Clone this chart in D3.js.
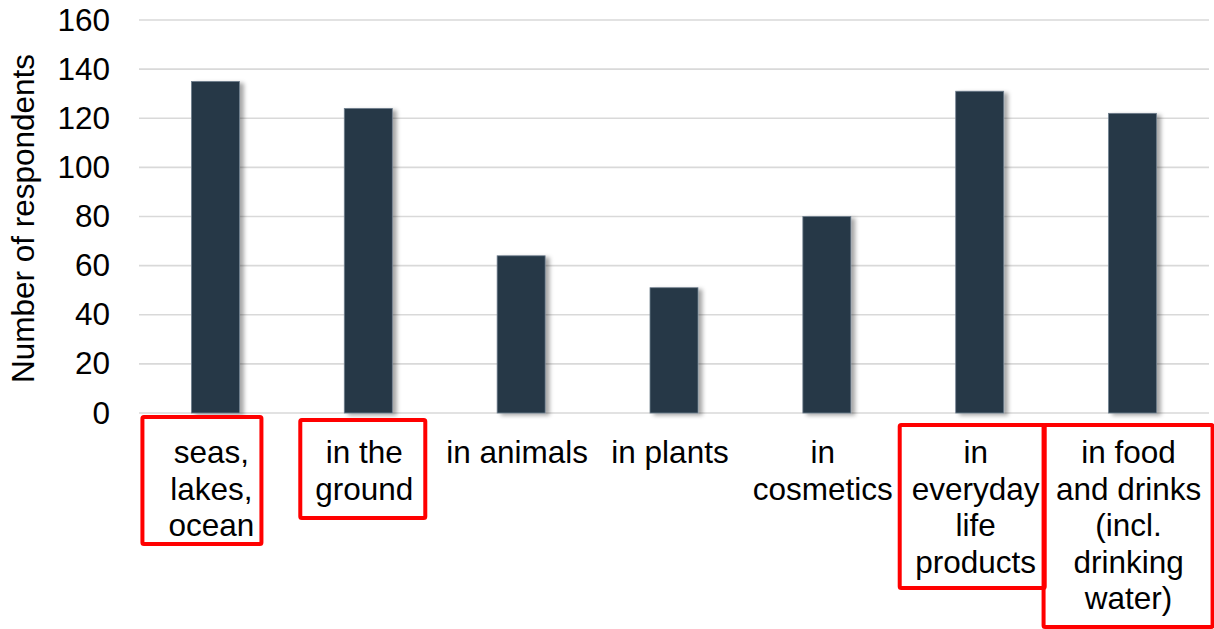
<!DOCTYPE html>
<html>
<head>
<meta charset="utf-8">
<script src="https://cdn.jsdelivr.net/npm/d3@7"></script>
<style>
  html, body { margin: 0; padding: 0; background: #fff; }
  svg { display: block; font-family: "Liberation Sans", Arial, sans-serif; }
</style>
</head>
<body>
<svg id="chart" width="1214" height="629"></svg>
<script>
// data
const categories = [
  "seas,\nlakes,\nocean",
  "in the\nground",
  "in animals",
  "in plants",
  "in\ncosmetics",
  "in\neveryday\nlife\nproducts",
  "in food\nand drinks\n(incl.\ndrinking\nwater)"
];
const respondents = [135, 124, 64, 51, 80, 131, 122];
const yTicks = [0, 20, 40, 60, 80, 100, 120, 140, 160];
const yTitle = "Number of respondents";

// red highlight boxes drawn over some labels (offsets from band centre / axis)
const highlighted = [0, 1, 5, 6];
const boxLeft = [-73, -68, -80, -89];
const boxRight = [46, 57, 65, 80];
const boxTop = [4, 7, 12, 12];
const boxBottom = [131, 105, 175, 214];

const W = 1214, H = 629;
const margin = { top: 20, right: 5, bottom: 216, left: 139 };
const innerW = W - margin.left - margin.right;
const innerH = H - margin.top - margin.bottom;
const fontSize = '31.5px';

const svg = d3.select('#chart');

const defs = svg.append('defs');
const shadow = defs.append('filter')
  .attr('id', 'shadow')
  .attr('x', '-20%').attr('y', '-5%')
  .attr('width', '160%').attr('height', '115%');
shadow.append('feDropShadow')
  .attr('dx', 4).attr('dy', 2)
  .attr('stdDeviation', 2.2)
  .attr('flood-color', '#000')
  .attr('flood-opacity', 0.35);

const g = svg.append('g')
  .attr('transform', `translate(${margin.left},${margin.top})`);

const x = d3.scaleBand()
  .domain(categories)
  .range([0, innerW])
  .paddingInner(0.686)
  .paddingOuter(0.343);

const y = d3.scaleLinear()
  .domain([0, 160])
  .range([innerH, 0]);

// gridlines
g.append('g')
  .attr('class', 'grid')
  .selectAll('line')
  .data(yTicks)
  .enter()
  .append('line')
  .attr('x1', 0)
  .attr('x2', innerW)
  .attr('y1', d => y(d))
  .attr('y2', d => y(d))
  .attr('stroke', '#d9d9d9')
  .attr('stroke-width', 1.6);

// y axis labels
const yAxis = d3.axisLeft(y)
  .tickValues(yTicks)
  .tickSize(0)
  .tickPadding(29);

g.append('g')
  .attr('class', 'y-axis')
  .call(yAxis)
  .call(s => s.select('.domain').remove())
  .selectAll('text')
  .style('font-size', fontSize)
  .style('font-family', '"Liberation Sans", Arial, sans-serif')
  .attr('fill', '#000');

// bars
g.append('g')
  .selectAll('rect')
  .data(respondents)
  .enter()
  .append('rect')
  .attr('x', (d, i) => x(categories[i]))
  .attr('y', d => y(d))
  .attr('width', x.bandwidth())
  .attr('height', d => y(0) - y(d))
  .attr('fill', '#253746')
  .attr('stroke', '#6f7f8e')
  .attr('stroke-width', 0.8)
  .attr('filter', 'url(#shadow)');

// category labels (sit a touch left of the bar centre, as in the original)
const lineH = 36.5;
const labelX = d => x(d) + x.bandwidth() / 2 - 4;
const labels = g.append('g')
  .attr('class', 'x-labels')
  .selectAll('text')
  .data(categories)
  .enter()
  .append('text')
  .attr('text-anchor', 'middle')
  .attr('x', labelX)
  .attr('y', innerH + 50)
  .style('font-size', fontSize)
  .attr('fill', '#000');

labels.selectAll('tspan')
  .data(d => d.split('\n').map(t => ({ t, cx: labelX(d) })))
  .enter()
  .append('tspan')
  .attr('x', d => d.cx)
  .attr('dy', (d, i) => i === 0 ? 0 : lineH)
  .text(d => d.t);

// highlight boxes
g.append('g')
  .selectAll('rect')
  .data(highlighted)
  .enter()
  .append('rect')
  .attr('x', (d, i) => x(categories[d]) + x.bandwidth() / 2 + boxLeft[i])
  .attr('y', (d, i) => innerH + boxTop[i])
  .attr('width', (d, i) => boxRight[i] - boxLeft[i])
  .attr('height', (d, i) => boxBottom[i] - boxTop[i])
  .attr('fill', 'none')
  .attr('stroke', '#ff0000')
  .attr('stroke-width', 4)
  .attr('rx', 1.5);

// y axis title
svg.append('text')
  .attr('transform', 'rotate(-90)')
  .attr('x', -(margin.top + innerH / 2 + 2))
  .attr('y', 34)
  .attr('text-anchor', 'middle')
  .style('font-size', fontSize)
  .attr('fill', '#000')
  .text(yTitle);
</script>
</body>
</html>
